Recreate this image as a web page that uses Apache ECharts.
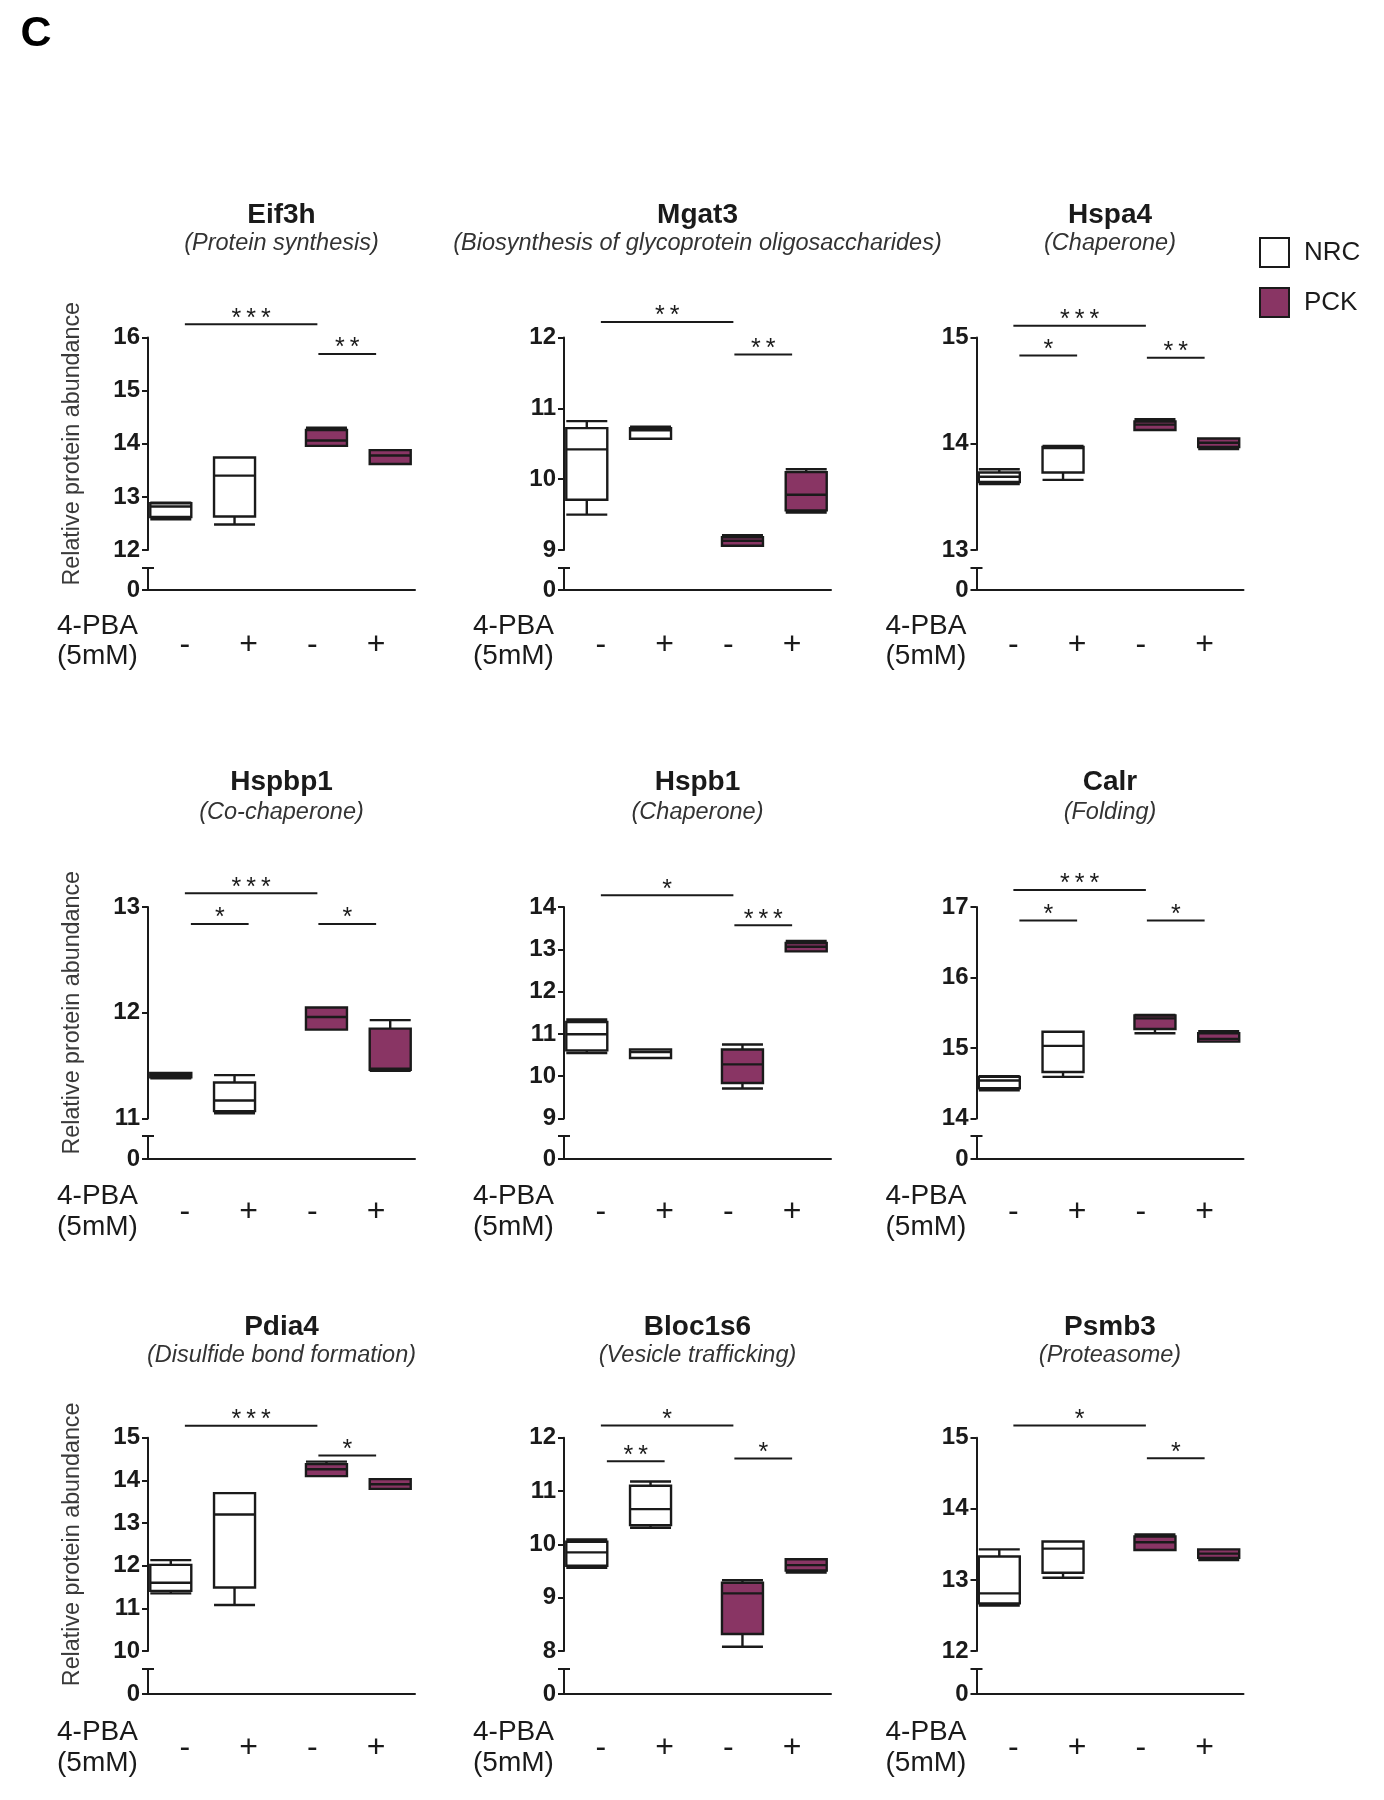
<!DOCTYPE html>
<html>
<head>
<meta charset="utf-8">
<script src="https://cdn.jsdelivr.net/npm/echarts@6/dist/echarts.min.js"></script>
<style>html,body{margin:0;padding:0;background:#fff;}#chart{width:1384px;height:1800px;}</style>
</head>
<body>
<div id="chart"></div>
<script>
// ---------- DATA ----------
const categories = ['-', '+', '-', '+'];
const groupNames = ['NRC', 'PCK'];
const panelNames = ['Eif3h', 'Mgat3', 'Hspa4', 'Hspbp1', 'Hspb1', 'Calr', 'Pdia4', 'Bloc1s6', 'Psmb3'];
const panelSubtitles = ['(Protein synthesis)', '(Biosynthesis of glycoprotein oligosaccharides)', '(Chaperone)',
  '(Co-chaperone)', '(Chaperone)', '(Folding)',
  '(Disulfide bond formation)', '(Vesicle trafficking)', '(Proteasome)'];
const yMins = [12, 9, 13, 11, 9, 14, 10, 8, 12];
const yMaxs = [16, 12, 15, 13, 14, 17, 15, 12, 15];
const yAxisName = 'Relative protein abundance';
const treatLabel = ['4-PBA', '(5mM)'];

// box values: [min, Q1, median, Q3, max] for NRC -, NRC +, PCK -, PCK +
const eif3h   = [[12.58,12.62,12.82,12.88,12.89],[12.48,12.63,13.40,13.74,13.74],[13.96,13.96,14.06,14.26,14.30],[13.62,13.62,13.78,13.88,13.88]];
const mgat3   = [[9.50,9.71,10.42,10.72,10.82],[10.57,10.57,10.69,10.72,10.74],[9.06,9.06,9.13,9.18,9.21],[9.53,9.56,9.78,10.10,10.14]];
const hspa4   = [[13.62,13.64,13.69,13.73,13.76],[13.66,13.73,13.96,13.97,13.98],[14.13,14.13,14.18,14.21,14.23],[13.95,13.97,14.01,14.05,14.05]];
const hspbp1  = [[11.38,11.39,11.41,11.43,11.43],[11.05,11.07,11.17,11.34,11.41],[11.84,11.84,11.96,12.05,12.05],[11.45,11.46,11.47,11.85,11.93]];
const hspb1   = [[10.55,10.61,10.99,11.28,11.34],[10.43,10.43,10.57,10.63,10.63],[9.71,9.84,10.28,10.63,10.75],[12.95,12.95,13.06,13.15,13.20]];
const calr    = [[14.40,14.43,14.54,14.59,14.60],[14.59,14.66,15.03,15.23,15.23],[15.21,15.27,15.42,15.46,15.47],[15.09,15.09,15.13,15.21,15.24]];
const pdia4   = [[11.35,11.41,11.60,12.02,12.13],[11.08,11.49,13.20,13.70,13.70],[14.10,14.10,14.26,14.38,14.44],[13.80,13.80,13.91,14.03,14.03]];
const bloc1s6 = [[9.56,9.60,9.85,10.05,10.09],[10.31,10.36,10.66,11.10,11.18],[8.08,8.32,9.08,9.28,9.33],[9.47,9.51,9.61,9.72,9.72]];
const psmb3   = [[12.64,12.67,12.81,13.33,13.43],[13.03,13.10,13.44,13.54,13.54],[13.42,13.42,13.53,13.61,13.64],[13.28,13.31,13.37,13.43,13.43]];

// significance brackets: [fromCategory, toCategory, yLevel, label]
const sigEif3h   = [[0,2,16.25,'***'],[2,3,15.69,'**']];
const sigMgat3   = [[0,2,12.22,'**'],[2,3,11.76,'**']];
const sigHspa4   = [[0,2,15.11,'***'],[0,1,14.83,'*'],[2,3,14.81,'**']];
const sigHspbp1  = [[0,2,13.13,'***'],[0,1,12.84,'*'],[2,3,12.84,'*']];
const sigHspb1   = [[0,2,14.28,'*'],[2,3,13.57,'***']];
const sigCalr    = [[0,2,17.24,'***'],[0,1,16.81,'*'],[2,3,16.81,'*']];
const sigPdia4   = [[0,2,15.28,'***'],[2,3,14.58,'*']];
const sigBloc1s6 = [[0,2,12.23,'*'],[0,1,11.56,'**'],[2,3,11.61,'*']];
const sigPsmb3   = [[0,2,15.17,'*'],[2,3,14.71,'*']];

const panelBoxes = [eif3h, mgat3, hspa4, hspbp1, hspb1, calr, pdia4, bloc1s6, psmb3];
const panelSigs = [sigEif3h, sigMgat3, sigHspa4, sigHspbp1, sigHspb1, sigCalr, sigPdia4, sigBloc1s6, sigPsmb3];

// ---------- LAYOUT / STYLE ----------
const FONT = "'Liberation Sans', Arial, sans-serif";
const INK = '#1a1a1a';
const PURPLE = '#893564';
const WHITE = '#ffffff';
const colAxisX = [148, 564, 976.5];
const axisWidth = 267;
const upperTop = [337.5, 907, 1437.7];
const upperH = [212.5, 211.5, 213.3];
const lowerTop = [568, 1136, 1669];
const lowerH = [22, 23, 25];
const titleY = [215, 782, 1327];
const subY = [243, 812, 1355];
const treatY = [[626, 656], [1196, 1227], [1732, 1763]];
const catLabelMargin = [79, 78, 81];
const innerShift = 5;

const chart = echarts.init(document.getElementById('chart'), null, {renderer: 'canvas'});

const grid = [], xAxis = [], yAxis = [], series = [];
panelNames.forEach((name, i) => {
  const r = Math.floor(i / 3), c = i % 3;
  const ax = colAxisX[c];
  grid.push({left: ax + innerShift, top: upperTop[r], width: axisWidth - 12, height: upperH[r]});
  grid.push({left: ax, top: lowerTop[r], width: axisWidth, height: lowerH[r]});
  xAxis.push({
    type: 'category', gridIndex: 2 * i, data: categories, boundaryGap: true,
    axisLine: {show: false}, axisTick: {show: false}, splitLine: {show: false},
    axisLabel: {margin: catLabelMargin[r], fontSize: 32, color: INK, fontFamily: FONT}
  });
  xAxis.push({
    type: 'value', gridIndex: 2 * i + 1, min: 0, max: 1,
    axisLine: {show: true, lineStyle: {color: INK, width: 2}},
    axisTick: {show: false}, axisLabel: {show: false}, splitLine: {show: false}
  });
  yAxis.push({
    type: 'value', gridIndex: 2 * i, min: yMins[i], max: yMaxs[i], interval: 1, offset: innerShift,
    axisLine: {show: true, onZero: false, lineStyle: {color: INK, width: 2}},
    axisTick: {show: true, length: 6, lineStyle: {color: INK, width: 2}},
    axisLabel: {margin: 8, fontSize: 24, fontWeight: 'bold', color: INK, fontFamily: FONT},
    splitLine: {show: false},
    name: c === 0 ? yAxisName : '', nameLocation: 'middle', nameGap: 64,
    nameTextStyle: {fontSize: 23.3, color: '#3a3a3a', fontFamily: FONT}
  });
  yAxis.push({
    type: 'value', gridIndex: 2 * i + 1, min: 0, max: 1,
    axisLine: {show: true, onZero: false, lineStyle: {color: INK, width: 2},
      symbol: ['none', 'rect'], symbolSize: [12, 2]},
    axisTick: {show: true, length: 6, customValues: [0], lineStyle: {color: INK, width: 2}},
    axisLabel: {margin: 8, fontSize: 24, fontWeight: 'bold', color: INK, fontFamily: FONT, customValues: [0]},
    splitLine: {show: false}
  });
  const boxes = panelBoxes[i];
  const common = {
    type: 'boxplot', xAxisIndex: 2 * i, yAxisIndex: 2 * i,
    encode: {x: 0, y: [1, 2, 3, 4, 5]},
    boxWidth: [41, 41], silent: true,
    emphasis: {disabled: true}
  };
  series.push(Object.assign({}, common, {
    name: groupNames[0],
    itemStyle: {color: WHITE, borderColor: INK, borderWidth: 2.4},
    data: [[0].concat(boxes[0]), [1].concat(boxes[1])]
  }));
  series.push(Object.assign({}, common, {
    name: groupNames[1],
    itemStyle: {color: PURPLE, borderColor: INK, borderWidth: 2.4},
    data: [[2].concat(boxes[2]), [3].concat(boxes[3])]
  }));
});

const option = {
  animation: false,
  backgroundColor: '#ffffff',
  grid, xAxis, yAxis, series,
  legend: {
    data: [
      {name: groupNames[0], itemStyle: {color: WHITE, borderColor: INK, borderWidth: 2}},
      {name: groupNames[1], itemStyle: {color: PURPLE, borderColor: INK, borderWidth: 2}}
    ],
    orient: 'vertical', left: 1254, top: 232,
    itemWidth: 29, itemHeight: 29, itemGap: 19, icon: 'rect',
    textStyle: {fontSize: 26, color: INK, fontFamily: FONT, padding: [0, 0, 0, 10]},
    selectedMode: false
  }
};
chart.setOption(option);

// ---------- annotations (titles, treatment labels, significance) ----------
const graphic = [];
graphic.push({type: 'text', x: 36, y: 34, style: {text: 'C', fontSize: 43, fontWeight: 'bold', fontFamily: FONT, fill: '#000', align: 'center', verticalAlign: 'middle'}});
panelNames.forEach((name, i) => {
  const r = Math.floor(i / 3), c = i % 3;
  const cx = colAxisX[c] + axisWidth / 2;
  graphic.push({type: 'text', x: cx, y: titleY[r], style: {text: name, fontSize: 28, fontWeight: 'bold', fontFamily: FONT, fill: INK, align: 'center', verticalAlign: 'middle'}});
  graphic.push({type: 'text', x: cx, y: subY[r], style: {text: panelSubtitles[i], fontSize: 23.5, fontStyle: 'italic', fontFamily: FONT, fill: '#333', align: 'center', verticalAlign: 'middle'}});
  treatLabel.forEach((t, k) => {
    graphic.push({type: 'text', x: colAxisX[c] - 91, y: treatY[r][k], style: {text: t, fontSize: 28, fontFamily: FONT, fill: INK, align: 'left', verticalAlign: 'middle'}});
  });
  panelSigs[i].forEach(s => {
    const p1 = chart.convertToPixel({xAxisIndex: 2 * i, yAxisIndex: 2 * i}, [s[0], s[2]]);
    const p2 = chart.convertToPixel({xAxisIndex: 2 * i, yAxisIndex: 2 * i}, [s[1], s[2]]);
    const long = s[1] - s[0] > 1;
    const x1 = p1[0] + (long ? 0 : 6);
    const x2 = p2[0] + (long ? 5 : 0);
    graphic.push({type: 'line', shape: {x1: x1, y1: p1[1], x2: x2, y2: p1[1]}, style: {stroke: INK, lineWidth: 2}});
    graphic.push({type: 'text', x: (x1 + x2) / 2, y: p1[1] - 5.5, style: {text: s[3].split('').join('\u2009'), fontSize: 25, fontFamily: FONT, fill: INK, align: 'center', verticalAlign: 'middle'}});
  });
});
chart.setOption({graphic: graphic});
</script>
</body>
</html>
